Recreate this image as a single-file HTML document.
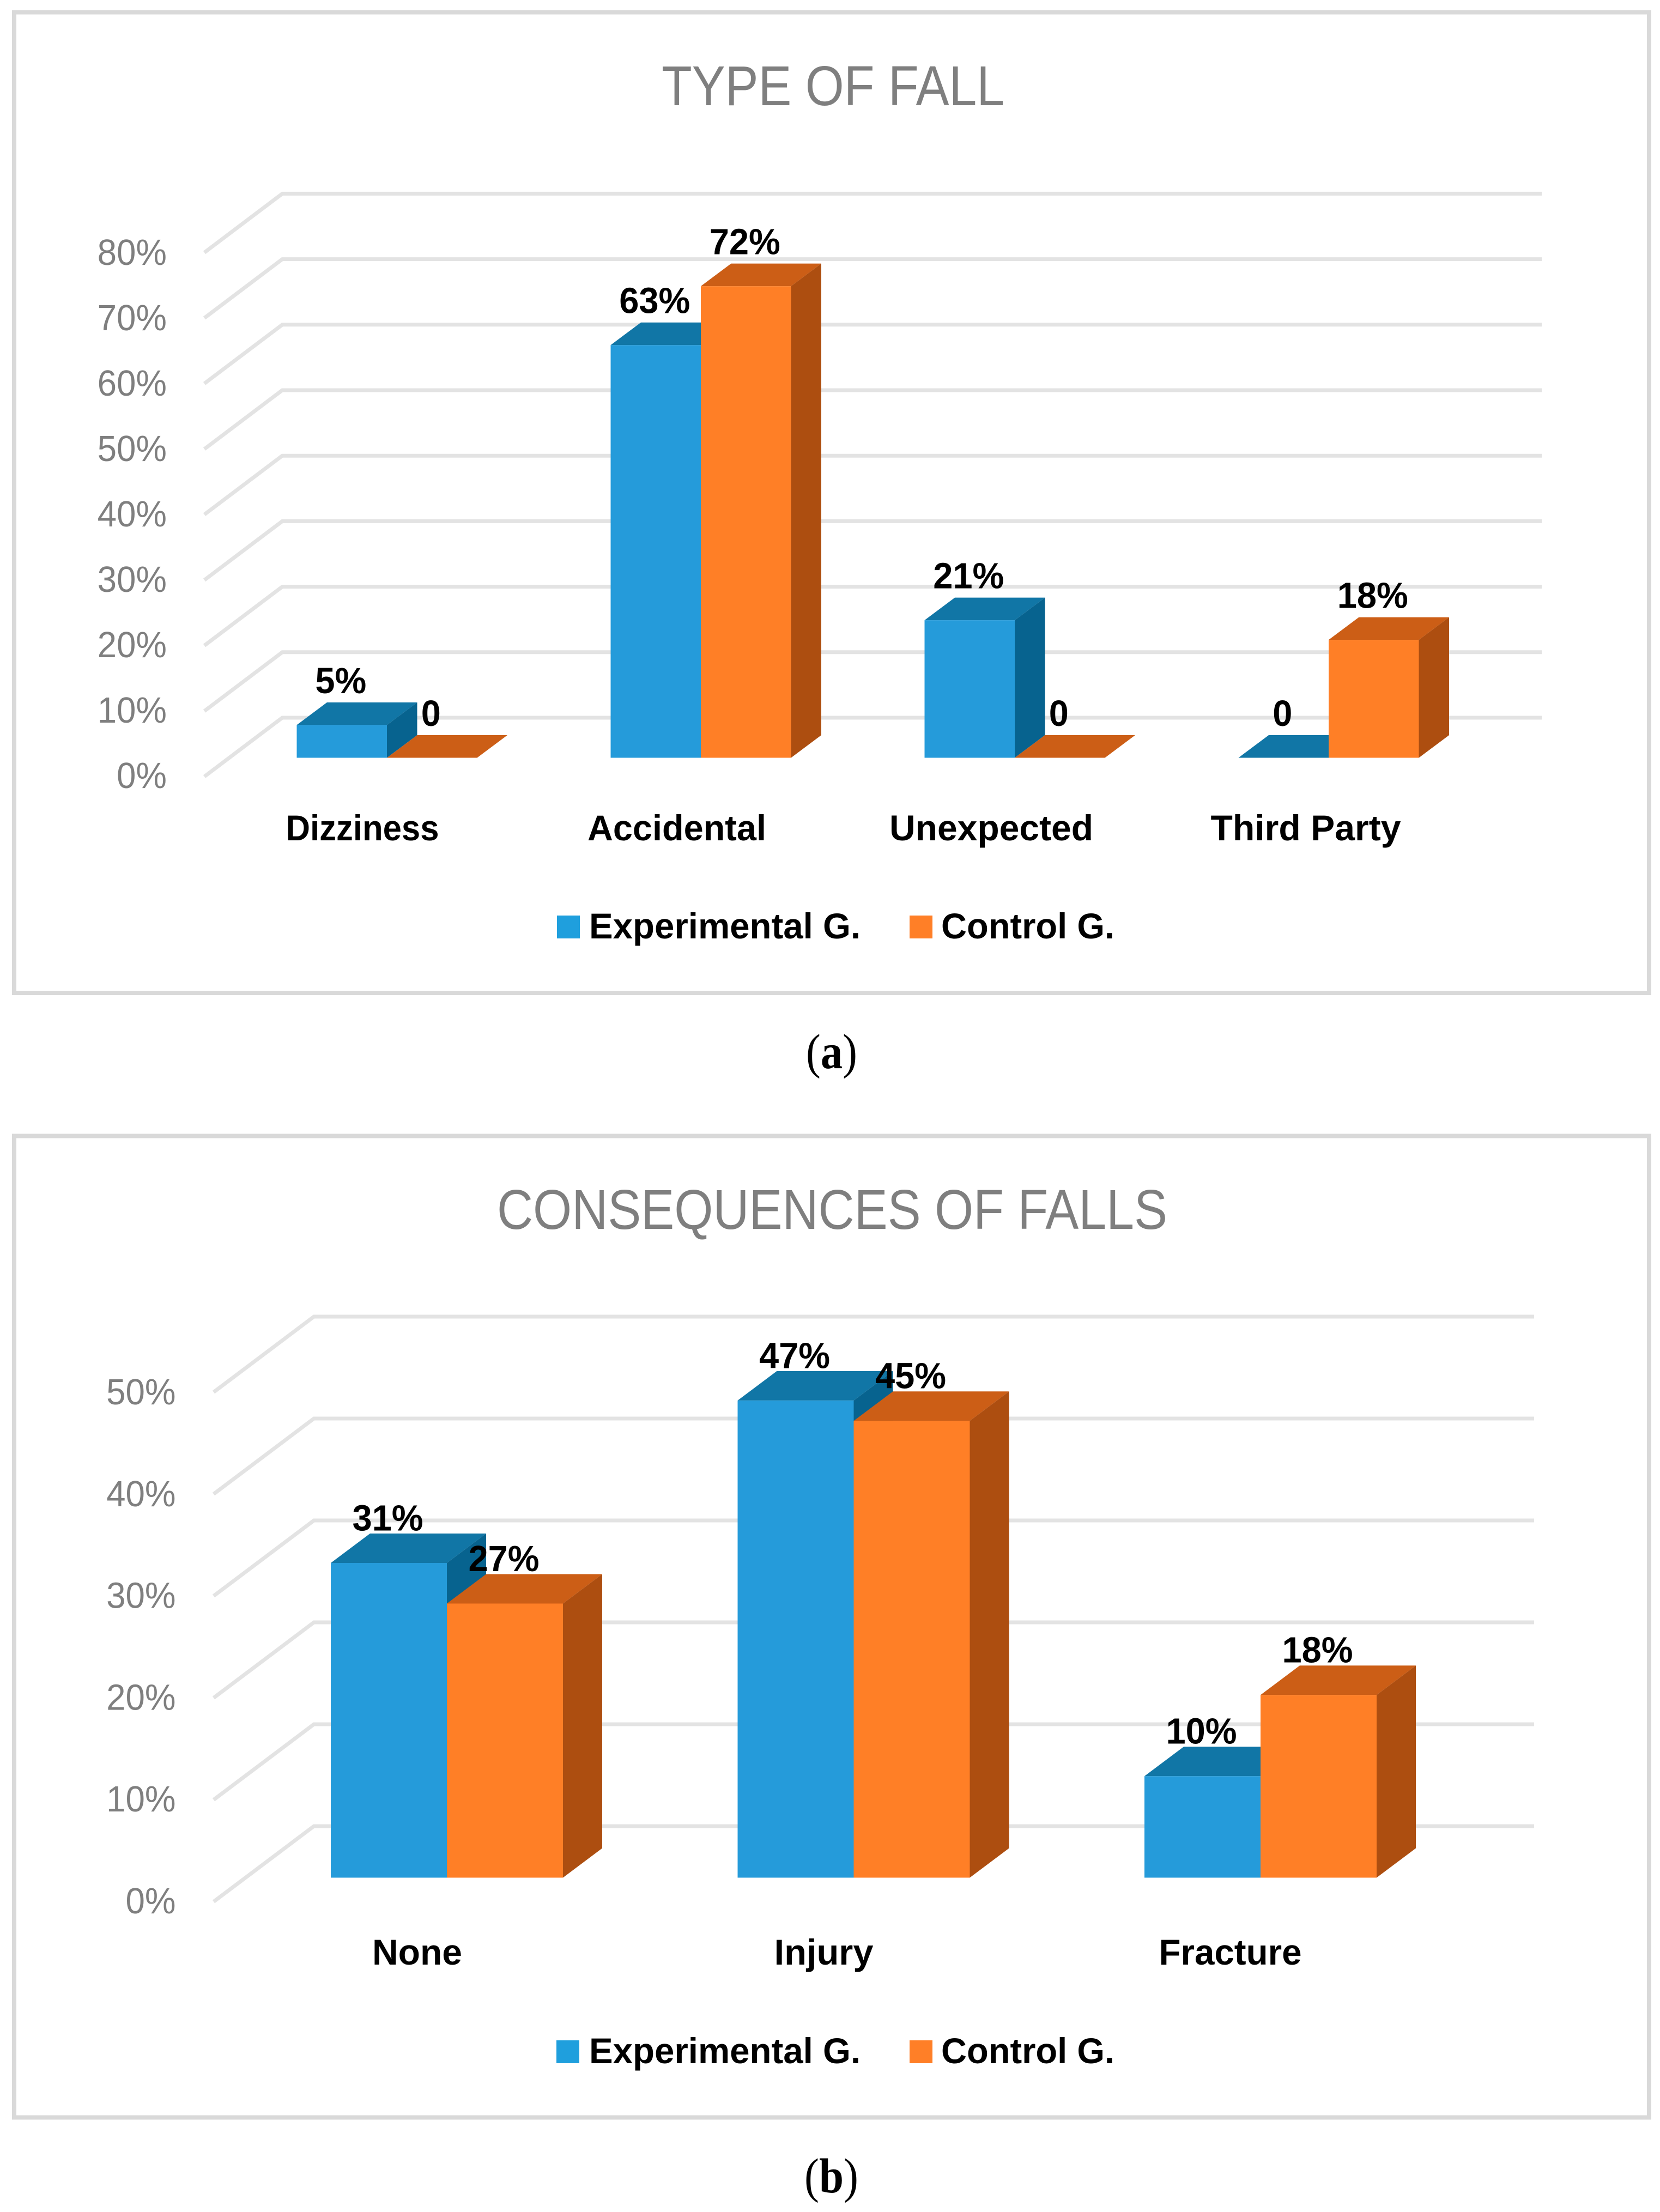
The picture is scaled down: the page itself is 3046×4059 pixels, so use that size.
<!DOCTYPE html>
<html lang="en">
<head>
<meta charset="utf-8">
<title>Type of fall and consequences of falls</title>
<style>
html,body{margin:0;padding:0;background:#fff;}
svg{display:block;}
text{font-family:"Liberation Sans",sans-serif;}
.title{fill:#7f7f7f;font-size:103px;}
.tick{fill:#7f7f7f;font-size:67px;}
.data{fill:#000;font-size:67px;font-weight:bold;}
.cat{fill:#000;font-size:66px;font-weight:bold;}
.leg{fill:#000;font-size:66px;font-weight:bold;}
.cap{fill:#000;font-size:90px;font-family:"Liberation Serif",serif;}
.frame{fill:#fff;stroke:#d9d9d9;stroke-width:8;}
.grid{fill:none;stroke:#e3e3e3;stroke-width:7;stroke-linejoin:miter;}
</style>
</head>
<body>
<svg id="figure" xmlns="http://www.w3.org/2000/svg" width="3046" height="4059" viewBox="0 0 3046 4059">
  <rect width="3046" height="4059" fill="#fff"/>

  <g id="chartA">
    <rect class="frame" x="26" y="22.5" width="3000" height="1799.5"/>
    <text class="title" x="1214" y="193" textLength="629" lengthAdjust="spacingAndGlyphs">TYPE OF FALL</text>
    <g id="a-grid"></g>
    <g id="a-ticks"></g>
    <g id="a-bars"></g>
    <g id="a-labels"></g>
    <g id="a-cats"></g>
    <rect x="1022" y="1680" width="42" height="42" fill="#1f9fdd"/>
    <text class="leg" x="1081" y="1722" textLength="498" lengthAdjust="spacingAndGlyphs">Experimental G.</text>
    <rect x="1669" y="1680" width="42" height="42" fill="#ff7f27"/>
    <text class="leg" x="1727" y="1722" textLength="318" lengthAdjust="spacingAndGlyphs">Control G.</text>
  </g>
  <text class="cap" x="1479" y="1960" textLength="94" lengthAdjust="spacingAndGlyphs">(<tspan font-weight="bold">a</tspan>)</text>

  <g id="chartB">
    <rect class="frame" x="26" y="2084.5" width="3000" height="1801"/>
    <text class="title" x="912" y="2255" textLength="1230" lengthAdjust="spacingAndGlyphs">CONSEQUENCES OF FALLS</text>
    <g id="b-grid"></g>
    <g id="b-ticks"></g>
    <g id="b-bars"></g>
    <g id="b-labels"></g>
    <g id="b-cats"></g>
    <rect x="1021" y="3744" width="42" height="42" fill="#1f9fdd"/>
    <text class="leg" x="1081" y="3786" textLength="498" lengthAdjust="spacingAndGlyphs">Experimental G.</text>
    <rect x="1669" y="3744" width="42" height="42" fill="#ff7f27"/>
    <text class="leg" x="1727" y="3786" textLength="318" lengthAdjust="spacingAndGlyphs">Control G.</text>
  </g>
  <text class="cap" x="1476" y="4023" textLength="99" lengthAdjust="spacingAndGlyphs">(<tspan font-weight="bold">b</tspan>)</text>
</svg>

<script>
const categoriesA = ["Dizziness", "Accidental", "Unexpected", "Third Party"];
const experimentalA = [5, 63, 21, 0];
const controlA = [0, 72, 0, 18];
const ticksA = [0, 10, 20, 30, 40, 50, 60, 70, 80];

const categoriesB = ["None", "Injury", "Fracture"];
const experimentalB = [31, 47, 10];
const controlB = [27, 45, 18];
const ticksB = [0, 10, 20, 30, 40, 50];

const NS = "http://www.w3.org/2000/svg";
const SHADES = {
  blue: { front: "#259bda", top: "#1176a6", side: "#07638f" },
  orange: { front: "#ff7f26", top: "#cc5e16", side: "#ad4e10" }
};
const CAT_FIT = { "Dizziness": 281, "Accidental": 328, "Unexpected": 374, "Third Party": 349, "None": 165, "Injury": 182, "Fracture": 262 };

function node(tag, parent, cls) {
  const el = document.createElementNS(NS, tag);
  if (cls) el.setAttribute("class", cls);
  parent.appendChild(el);
  return el;
}

function squeeze(el, k) {
  const w = el.getComputedTextLength();
  el.setAttribute("textLength", (w * k).toFixed(1));
  el.setAttribute("lengthAdjust", "spacingAndGlyphs");
}

function poly(parent, pts, fill) {
  const el = node("polygon", parent);
  el.setAttribute("points", pts.map(p => p[0].toFixed(1) + "," + p[1].toFixed(1)).join(" "));
  el.setAttribute("fill", fill);
  return el;
}

function drawBar(parent, x, w, yTop, yBase, dx, dy, shade, value) {
  const g = node("g", parent);
  
  
  const top = poly(g, [[x, yTop], [x + dx, yTop - dy], [x + w + dx, yTop - dy], [x + w, yTop]], shade.top);
  
  
  if (value > 0) {
    const side = poly(g, [[x + w, yTop], [x + w + dx, yTop - dy], [x + w + dx, yBase - dy], [x + w, yBase]], shade.side);
    
    
    const front = poly(g, [[x, yTop], [x + w, yTop], [x + w, yBase], [x, yBase]], shade.front);
    
    
  }
}

function drawChart(cfg) {
  const gridG = document.getElementById(cfg.id + "-grid");
  const tickG = document.getElementById(cfg.id + "-ticks");
  const barG = document.getElementById(cfg.id + "-bars");
  const labelG = document.getElementById(cfg.id + "-labels");
  const catG = document.getElementById(cfg.id + "-cats");

  cfg.ticks.forEach(t => {
    const yb = cfg.gridY(t);
    const line = node("polyline", gridG, "grid");
    
    
    line.setAttribute("points", cfg.wallFrontX + "," + (yb + cfg.wallDy).toFixed(1) + " " + cfg.wallBackX + "," + yb.toFixed(1) + " " + cfg.gridRight + "," + yb.toFixed(1));

    const tick = node("text", tickG, "tick");
    
    
    tick.textContent = t + "%";
    tick.setAttribute("text-anchor", "end");
    tick.setAttribute("x", cfg.tickRight);
    tick.setAttribute("y", cfg.tickY(t).toFixed(1));
    squeeze(tick, 0.95);
  });

  cfg.categories.forEach((cat, i) => {
    const x0 = cfg.x(i);
    const x1 = x0 + cfg.barW;
    const e = cfg.experimental[i];
    const c = cfg.control[i];
    drawBar(barG, x0, cfg.barW, cfg.y(e), cfg.y(0), cfg.dx, cfg.dy, SHADES.blue, e);
    drawBar(barG, x1, cfg.barW, cfg.y(c), cfg.y(0), cfg.dx, cfg.dy, SHADES.orange, c);

    [[e, x0], [c, x1]].forEach(pair => {
      const label = node("text", labelG, "data");
      
      
      label.textContent = pair[0] === 0 ? "0" : pair[0] + "%";
      label.setAttribute("text-anchor", "middle");
      label.setAttribute("x", (pair[1] + cfg.barW / 2 - 2).toFixed(1));
      label.setAttribute("y", (cfg.y(pair[0]) - cfg.dy - cfg.labelGap).toFixed(1));
      squeeze(label, 0.97);
    });

    const catLabel = node("text", catG, "cat");
    
    
    catLabel.textContent = cat;
    catLabel.setAttribute("text-anchor", "middle");
    catLabel.setAttribute("x", cfg.catX(i).toFixed(1));
    catLabel.setAttribute("y", cfg.catY);
    if (CAT_FIT[cat]) {
      catLabel.setAttribute("textLength", CAT_FIT[cat]);
      catLabel.setAttribute("lengthAdjust", "spacingAndGlyphs");
    }
  });
}

drawChart({
  id: "a",
  categories: categoriesA,
  experimental: experimentalA,
  control: controlA,
  ticks: ticksA,
  x: i => 544.5 + 576 * i,
  y: v => 1390.5 - v * 12.02,
  gridY: v => 1317 - v * 12.02,
  tickY: v => 1446 - v * 12,
  catX: i => 665 + 577 * i,
  catY: 1542,
  barW: 165.5,
  dx: 55.5,
  dy: 41.5,
  labelGap: 17,
  wallFrontX: 375,
  wallBackX: 518,
  wallDy: 108,
  gridRight: 2829,
  tickRight: 306
});

drawChart({
  id: "b",
  categories: categoriesB,
  experimental: experimentalB,
  control: controlB,
  ticks: ticksB,
  x: i => 607 + 746.5 * i,
  y: v => 3445.5 - v * 18.63,
  gridY: v => 3351 - v * 18.7,
  tickY: v => 3511 - v * 18.68,
  catX: i => 765.5 + 746 * i,
  catY: 3605,
  barW: 213,
  dx: 72,
  dy: 54,
  labelGap: 5.5,
  wallFrontX: 392,
  wallBackX: 576,
  wallDy: 138.6,
  gridRight: 2815,
  tickRight: 322.5
});
</script>
</body>
</html>
